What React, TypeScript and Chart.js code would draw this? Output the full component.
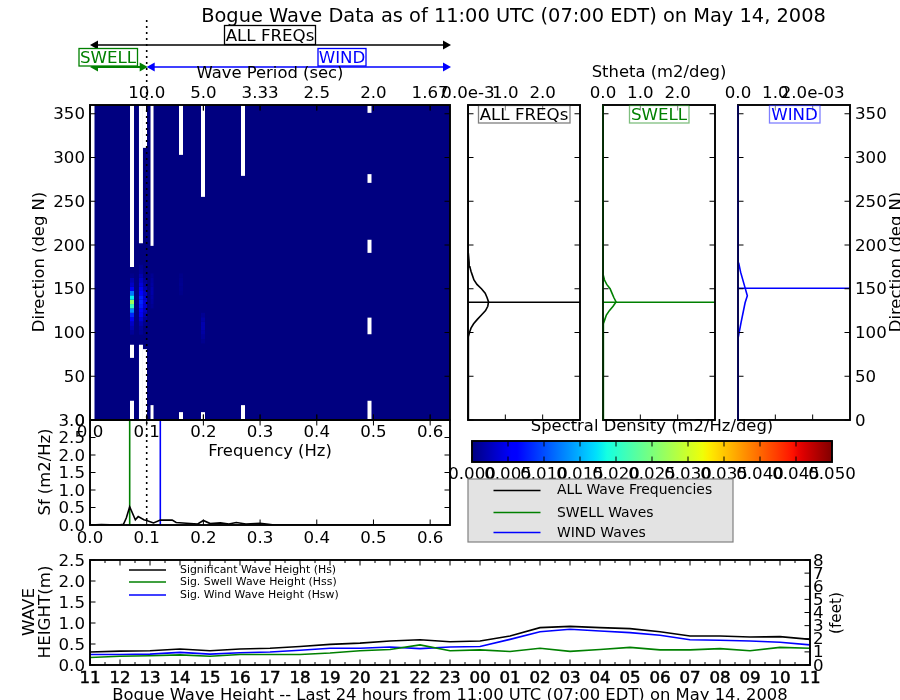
import React, { useEffect, useRef } from "react";
import { Chart, registerables } from "chart.js";

Chart.register(...registerables);
Chart.defaults.font.family = "'DejaVu Sans'";
Chart.defaults.color = "#000";

const FONT = "'DejaVu Sans'";
const TICK_PX = 16.67;
const LABEL_PX = 16.4;
const GREEN = "#008000";
const BLUE = "#0000ff";
const BLACK = "#000000";

// ---------- data ----------
const freqMax = 0.635;
const freqTicks = [0, 0.1, 0.2, 0.3, 0.4, 0.5, 0.6];
const periodTicks = [0.1, 0.2, 0.3, 0.4, 0.5, 0.6];
const periodLabels = ["10.0", "5.0", "3.33", "2.5", "2.0", "1.67"];
const dirTicks = [0, 50, 100, 150, 200, 250, 300, 350];
const sfTicks = [0, 0.5, 1, 1.5, 2, 2.5, 3];
const swellFreq = 0.07;
const windFreq = 0.124;
const splitFreq = 0.1;

// bins with no data (frequency centre, from direction, to direction)
const blankFreq = [0.0044, 0.0741, 0.0741, 0.0741, 0.0899, 0.0899, 0.0970, 0.0970, 0.1605, 0.1605, 0.1993, 0.1993, 0.2699, 0.2699];
const blankFrom = [0, 175, 71, 0, 202, 0, 311, 0, 303, 0, 255, 0, 279, 0];
const blankTo = [360, 360, 86, 22, 360, 86, 360, 81, 360, 9, 360, 9, 360, 17];
const blank2Freq = [0.4930, 0.4930, 0.4930, 0.4930, 0.4930];
const blank2From = [351, 271, 191, 98, 0];
const blank2To = [360, 281, 206, 117, 22];
const narrowFreq = [0.1094, 0.1094];
const narrowFrom = [199, 0];
const narrowTo = [360, 17];

// energy (frequency column -> direction -> density)
const energyFreqA = 0.0741;
const energyDirsA = [100, 105, 110, 115, 120, 125, 130, 135, 140, 145, 150, 155, 160, 165];
const energyValsA = [0.001, 0.002, 0.003, 0.005, 0.008, 0.013, 0.021, 0.027, 0.018, 0.012, 0.005, 0.003, 0.002, 0.0005];
const energyFreqB = 0.0899;
const energyDirsB = [100, 105, 110, 115, 120, 125, 130, 135, 140, 145, 150, 155, 160, 165, 170, 175];
const energyValsB = [0.0008, 0.0012, 0.002, 0.0035, 0.005, 0.006, 0.0075, 0.008, 0.0075, 0.006, 0.005, 0.004, 0.003, 0.002, 0.001, 0.0008];
const energyFreqC = 0.097;
const energyDirsC = [110, 115, 120, 125, 130, 135, 140, 145, 150, 155, 160];
const energyValsC = [0.0005, 0.001, 0.002, 0.003, 0.0035, 0.004, 0.0035, 0.003, 0.002, 0.0015, 0.001];
const energyFreqD = 0.1605;
const energyDirsD = [145, 150, 155, 160, 165];
const energyValsD = [0.0004, 0.0006, 0.0007, 0.0006, 0.0004];
const energyFreqE = 0.1993;
const energyDirsE = [90, 95, 100, 105, 110, 115, 120];
const energyValsE = [0.0006, 0.001, 0.0015, 0.002, 0.002, 0.0015, 0.0008];
const energyFreqF = 0.1094;
const energyDirsF = [130, 135, 140, 145, 150, 155, 160, 165];
const energyValsF = [0.0008, 0.0012, 0.0015, 0.0018, 0.0018, 0.0015, 0.0012, 0.0008];

// frequency spectrum
const sfFreqs = [0, 0.02, 0.05, 0.059, 0.064, 0.07, 0.08, 0.085, 0.095, 0.1, 0.112, 0.124, 0.145, 0.152, 0.17, 0.19, 0.2, 0.212, 0.23, 0.245, 0.258, 0.275, 0.3, 0.315, 0.325, 0.635];
const sfVals = [0, 0.01, 0, 0.02, 0.2, 0.52, 0.15, 0.24, 0.15, 0.13, 0.06, 0.14, 0.14, 0.07, 0.05, 0.03, 0.13, 0.04, 0.06, 0.03, 0.07, 0.03, 0.05, 0.02, 0, 0];

// directional spreading
const allDirs = [0, 80, 90, 95, 100, 105, 110, 115, 120, 125, 130, 135, 140, 145, 150, 155, 160, 165, 170, 175, 180, 190, 200, 205, 360];
const allTheta = [0, 0, 0.01, 0.02, 0.04, 0.08, 0.15, 0.25, 0.36, 0.47, 0.53, 0.55, 0.51, 0.46, 0.36, 0.24, 0.16, 0.12, 0.08, 0.05, 0.03, 0.01, 0.005, 0, 0];
const swellDirs = [0, 105, 110, 115, 120, 125, 130, 135, 140, 145, 150, 155, 160, 165, 170, 360];
const swellTheta = [0, 0, 0.02, 0.05, 0.09, 0.17, 0.27, 0.35, 0.29, 0.24, 0.19, 0.1, 0.04, 0.01, 0, 0];
const windDirs = [0, 93, 111, 134, 142, 151, 169, 179, 200, 210, 360];
const windTheta = [0, 0, 0.08, 0.19, 0.25, 0.19, 0.07, 0.02, 0.005, 0, 0];
const allPeakDir = 134.5;
const swellPeakDir = 134.5;
const windPeakDir = 150.5;
const thetaTicks = [0, 1, 2];

// colour bar
const densityTicks = [0, 0.005, 0.01, 0.015, 0.02, 0.025, 0.03, 0.035, 0.04, 0.045, 0.05];

// wave height history
const hourLabels = ["11", "12", "13", "14", "15", "16", "17", "18", "19", "20", "21", "22", "23", "00", "01", "02", "03", "04", "05", "06", "07", "08", "09", "10", "11"];
const hsVals = [0.31, 0.33, 0.34, 0.38, 0.34, 0.38, 0.4, 0.44, 0.49, 0.52, 0.57, 0.6, 0.555, 0.57, 0.69, 0.89, 0.92, 0.89, 0.865, 0.79, 0.69, 0.69, 0.667, 0.675, 0.61];
const hssVals = [0.18, 0.21, 0.22, 0.24, 0.21, 0.25, 0.25, 0.25, 0.285, 0.34, 0.37, 0.48, 0.34, 0.36, 0.32, 0.4, 0.325, 0.37, 0.42, 0.36, 0.36, 0.39, 0.34, 0.42, 0.4];
const hswVals = [0.25, 0.25, 0.26, 0.3, 0.26, 0.29, 0.31, 0.35, 0.4, 0.4, 0.43, 0.39, 0.43, 0.44, 0.61, 0.79, 0.85, 0.81, 0.77, 0.71, 0.6, 0.59, 0.57, 0.54, 0.48];
const metreTicks = [0, 0.5, 1, 1.5, 2, 2.5];
const feetTicks = [0, 1, 2, 3, 4, 5, 6, 7, 8];
const legendTop = ["ALL Wave Frequencies", "SWELL Waves", "WIND Waves"];
const legendBottom = ["Significant Wave Height (Hs)", "Sig. Swell Wave Height (Hss)", "Sig. Wind Wave Height (Hsw)"];

// ---------- helpers ----------
function interp(pts: number[][], t: number) {
  for (let i = 1; i < pts.length; i++) {
    if (t <= pts[i][0]) {
      const [a, va] = pts[i - 1];
      const [b, vb] = pts[i];
      return va + ((t - a) / (b - a)) * (vb - va);
    }
  }
  return pts[pts.length - 1][1];
}
function jet(t: number) {
  const r = interp([[0, 0], [0.35, 0], [0.66, 1], [0.89, 1], [1, 0.5]], t);
  const g = interp([[0, 0], [0.125, 0], [0.375, 1], [0.64, 1], [0.91, 0], [1, 0]], t);
  const b = interp([[0, 0.5], [0.11, 1], [0.34, 1], [0.65, 0], [1, 0]], t);
  return `rgb(${Math.round(r * 255)},${Math.round(g * 255)},${Math.round(b * 255)})`;
}
function text(ctx: any, s: string, x: number, y: number, o: any = {}) {
  ctx.save();
  ctx.font = `${o.size || LABEL_PX}px ${FONT}`;
  ctx.fillStyle = o.color || "#000";
  ctx.textAlign = o.align || "center";
  ctx.textBaseline = "middle";
  ctx.translate(x, y);
  if (o.rot) ctx.rotate(o.rot);
  ctx.fillText(s, 0, 1);
  ctx.restore();
}
function boxedText(ctx: any, s: string, cx: number, x0: number, y0: number, x1: number, y1: number, color: string, alpha = 1) {
  ctx.save();
  ctx.globalAlpha = alpha;
  ctx.fillStyle = "#fff";
  ctx.fillRect(x0, y0, x1 - x0, y1 - y0);
  ctx.strokeStyle = color;
  ctx.lineWidth = 1.3;
  ctx.strokeRect(x0, y0, x1 - x0, y1 - y0);
  ctx.restore();
  text(ctx, s, cx, (y0 + y1) / 2 + 0.5, { size: TICK_PX, color });
}
function arrow(ctx: any, x0: number, x1: number, y: number, color: string, lw: number) {
  ctx.save();
  ctx.strokeStyle = color;
  ctx.fillStyle = color;
  ctx.lineWidth = lw;
  ctx.beginPath();
  ctx.moveTo(x0 + 4, y);
  ctx.lineTo(x1 - 4, y);
  ctx.stroke();
  for (const [tip, dir] of [[x0, 1], [x1, -1]]) {
    ctx.beginPath();
    ctx.moveTo(tip, y);
    ctx.lineTo(tip + dir * 8, y - 4.5);
    ctx.lineTo(tip + dir * 8, y + 4.5);
    ctx.closePath();
    ctx.fill();
  }
  ctx.restore();
}
function axis(position: string, box: number[], min: number, max: number, values: number[], fmt: ((v: number) => string) | null, padding = 4, stroke = 0) {
  const [L, T, R, B] = box;
  const vertical = position === "left" || position === "right";
  return {
    type: "linear",
    position,
    min,
    max,
    offset: false,
    afterBuildTicks: (s: any) => {
      s.ticks = values.map((value) => ({ value }));
    },
    afterFit: (s: any) => {
      if (position === "left") s.width = L;
      if (position === "right") s.width = 900 - R;
      if (position === "top") s.height = T;
      if (position === "bottom") s.height = 700 - B;
    },
    grid: { display: false, drawTicks: false, offset: false },
    border: { display: false },
    ticks: {
      display: !!fmt,
      autoSkip: false,
      maxRotation: 0,
      minRotation: 0,
      padding,
      labelOffset: vertical ? 1.2 : 0,
      color: "#000",
      textStrokeColor: "#000",
      textStrokeWidth: stroke,
      font: { size: TICK_PX },
      callback: (v: number) => (fmt ? fmt(v) : ""),
    },
  };
}
function framePlugin(sides: any, minors: any = {}) {
  return {
    id: "frame",
    afterDraw(chart: any) {
      const { ctx, chartArea: a } = chart;
      ctx.save();
      ctx.strokeStyle = "#000";
      ctx.lineWidth = 1;
      const mark = (px: number, side: string, len: number) => {
        ctx.beginPath();
        if (side === "top") { ctx.moveTo(px, a.top); ctx.lineTo(px, a.top + len); }
        if (side === "bottom") { ctx.moveTo(px, a.bottom); ctx.lineTo(px, a.bottom - len); }
        if (side === "left") { ctx.moveTo(a.left, px); ctx.lineTo(a.left + len, px); }
        if (side === "right") { ctx.moveTo(a.right, px); ctx.lineTo(a.right - len, px); }
        ctx.stroke();
      };
      for (const id of Object.keys(sides)) {
        const s = chart.scales[id];
        for (const t of s.ticks) for (const side of sides[id]) mark(s.getPixelForValue(t.value), side, 5.5);
        for (const v of minors[id] || []) for (const side of sides[id]) mark(s.getPixelForValue(v), side, 3);
      }
      ctx.lineWidth = 1.9;
      ctx.strokeRect(a.left, a.top, a.right - a.left, a.bottom - a.top);
      ctx.restore();
    },
  };
}
function makePanel(canvas: any, box: number[], type: string, datasets: any[], scales: any, plugins: any[]) {
  const [L, T, R, B] = box;
  const pos = Object.values(scales).map((s: any) => s.position);
  return new Chart(canvas, {
    type: type as any,
    data: { datasets },
    options: {
      responsive: false,
      animation: false,
      devicePixelRatio: 1,
      layout: {
        padding: {
          left: pos.includes("left") ? 0 : L,
          right: pos.includes("right") ? 0 : 900 - R,
          top: pos.includes("top") ? 0 : T,
          bottom: pos.includes("bottom") ? 0 : 700 - B,
        },
      },
      plugins: { legend: { display: false }, tooltip: { enabled: false }, title: { display: false } },
      scales,
    } as any,
    plugins,
  });
}
const curve = (label: string, xs: number[], ys: number[], color: string, lw = 1.6) => ({
  label,
  data: xs.map((x, i) => ({ x, y: ys[i] })),
  borderColor: color,
  borderWidth: lw,
  showLine: true,
  pointRadius: 0,
  tension: 0,
});
const fmt1 = (v: number) => v.toFixed(1);
const fmt0 = (v: number) => String(Math.round(v));
const spans = (fs: number[], from: number[], to: number[]) => fs.map((x, i) => ({ x, y: [from[i], to[i]] }));
const column = (f: number, dirs: number[], vals: number[]) => dirs.map((d, i) => ({ x: f, y: [d - 2.5, d + 2.5], v: vals[i] }));

function buildAll(cv: any[]) {
  const charts: Chart[] = [];

  // ----- directional spectrum -----
  const heatBox = [90, 105, 450, 420];
  const energy = [
    ...column(energyFreqA, energyDirsA, energyValsA),
    ...column(energyFreqB, energyDirsB, energyValsB),
    ...column(energyFreqC, energyDirsC, energyValsC),
    ...column(energyFreqD, energyDirsD, energyValsD),
    ...column(energyFreqE, energyDirsE, energyValsE),
  ];
  const barBase = { grouped: false, inflateAmount: 0, borderWidth: 0 };
  charts.push(
    makePanel(
      cv[0],
      heatBox,
      "bar",
      [
        { ...barBase, label: "Density", data: energy, barThickness: 4, backgroundColor: (c: any) => jet((c.raw?.v ?? 0) / 0.05) },
        { ...barBase, label: "Density (narrow bin)", data: column(energyFreqF, energyDirsF, energyValsF), barThickness: 3, backgroundColor: (c: any) => jet((c.raw?.v ?? 0) / 0.05) },
        { ...barBase, label: "No data", data: spans(blankFreq, blankFrom, blankTo), barThickness: 4, backgroundColor: "#fff" },
        { ...barBase, label: "No data 2", data: spans(blank2Freq, blank2From, blank2To), barThickness: 4, backgroundColor: "#fff" },
        { ...barBase, label: "No data 3", data: spans(narrowFreq, narrowFrom, narrowTo), barThickness: 3, backgroundColor: "#fff" },
      ],
      {
        x: axis("bottom", heatBox, 0, freqMax, freqTicks, fmt1, 2.5),
        xTop: { ...axis("top", heatBox, 0, freqMax, periodTicks, (v) => periodLabels[periodTicks.indexOf(v)], 1), axis: "x" },
        y: axis("left", heatBox, 0, 360, dirTicks, fmt0, 5),
      },
      [
        {
          id: "navy",
          beforeDatasetsDraw(chart: any) {
            const { ctx, chartArea: a } = chart;
            ctx.fillStyle = jet(0);
            ctx.fillRect(a.left, a.top, a.right - a.left, a.bottom - a.top);
          },
        },
        framePlugin({ x: ["top", "bottom"], xTop: ["top", "bottom"], y: ["left", "right"] }),
        {
          id: "notes",
          afterDraw(chart: any) {
            const { ctx } = chart;
            const sx = chart.scales.x;
            const x0 = sx.getPixelForValue(0);
            const x1 = sx.getPixelForValue(freqMax) + 1;
            const xs = sx.getPixelForValue(splitFreq);
            text(ctx, "Bogue Wave Data as of 11:00 UTC (07:00 EDT) on May 14, 2008", 513.5, 16, { size: 19.4 });
            arrow(ctx, x0, x1, 45, BLACK, 1.4);
            arrow(ctx, x0, xs + 1, 67, GREEN, 2.2);
            arrow(ctx, xs, x1, 67, BLUE, 1.4);
            boxedText(ctx, "ALL FREQs", 270, 224.5, 25.5, 315.5, 44.5, BLACK);
            boxedText(ctx, "SWELL", 108, 79, 48.5, 137.5, 66, GREEN);
            boxedText(ctx, "WIND", 342, 318, 48.5, 366, 66, BLUE);
            text(ctx, "Wave Period (sec)", 270, 73);
            text(ctx, "Frequency (Hz)", 270, 451);
            text(ctx, "Direction (deg N)", 39, 262, { rot: -Math.PI / 2 });
            ctx.save();
            ctx.strokeStyle = "#000";
            ctx.lineWidth = 1.6;
            ctx.setLineDash([2, 4]);
            ctx.beginPath();
            ctx.moveTo(xs, 20);
            ctx.lineTo(xs, 525);
            ctx.stroke();
            ctx.restore();
          },
        },
      ]
    )
  );

  // ----- Sf -----
  const sfBox = [90, 420, 450, 525];
  charts.push(
    makePanel(
      cv[1],
      sfBox,
      "scatter",
      [
        curve("Sf", sfFreqs, sfVals, BLACK),
        curve("Swell peak", [swellFreq, swellFreq], [0, 3], GREEN),
        curve("Wind peak", [windFreq, windFreq], [0, 3], BLUE),
      ],
      {
        x: axis("bottom", sfBox, 0, freqMax, freqTicks, fmt1, 3.5),
        y: axis("left", sfBox, 0, 3, sfTicks, fmt1, 5),
      },
      [
        framePlugin({ x: ["top", "bottom"], y: ["left", "right"] }),
        {
          id: "sfNotes",
          afterDraw(chart: any) {
            text(chart.ctx, "Sf (m2/Hz)", 45, 472, { rot: -Math.PI / 2 });
          },
        },
      ]
    )
  );

  // ----- Stheta panels -----
  const thetaPanel = (
    canvas: any,
    box: number[],
    dirs: number[],
    vals: number[],
    peak: number,
    color: string,
    fmtX: (v: number) => string,
    showRight: boolean,
    notes: (ctx: any) => void
  ) =>
    makePanel(
      canvas,
      box,
      "scatter",
      [curve("Stheta", vals, dirs, color), curve("Peak direction", [0, 3], [peak, peak], color)],
      {
        x: axis("top", box, 0, 3, thetaTicks, fmtX, 1),
        y: axis(showRight ? "right" : "left", box, 0, 360, dirTicks, showRight ? fmt0 : null, 5),
      },
      [
        framePlugin({ x: ["top", "bottom"], y: ["left", "right"] }),
        {
          id: "thetaNotes",
          afterDraw: (chart: any) => {
            const { ctx, chartArea: a } = chart;
            ctx.save();
            ctx.globalAlpha = 0.5;
            ctx.strokeStyle = color;
            ctx.lineWidth = 1.2;
            ctx.beginPath();
            ctx.moveTo(a.left, a.top);
            ctx.lineTo(a.left, a.bottom);
            ctx.stroke();
            ctx.restore();
            notes(ctx);
          },
        },
      ]
    );
  charts.push(
    thetaPanel(cv[2], [468, 105, 580, 420], allDirs, allTheta, allPeakDir, BLACK, (v) => (v === 0 ? "0.0e-3" : fmt1(v)), false, (ctx) => {
      boxedText(ctx, "ALL FREQs", 524, 478.5, 105.5, 570, 123, "#000", 0.5);
      text(ctx, "Stheta (m2/deg)", 659, 72);
      text(ctx, "Spectral Density (m2/Hz/deg)", 652, 426);
    })
  );
  charts.push(
    thetaPanel(cv[3], [603, 105, 715, 420], swellDirs, swellTheta, swellPeakDir, GREEN, fmt1, false, (ctx) => {
      boxedText(ctx, "SWELL", 659, 629.5, 105.5, 689, 123, GREEN, 0.5);
    })
  );
  charts.push(
    thetaPanel(cv[4], [738, 105, 850, 420], windDirs, windTheta, windPeakDir, BLUE, (v) => (v === 2 ? "2.0e-03" : fmt1(v)), true, (ctx) => {
      boxedText(ctx, "WIND", 794.5, 769.5, 105.5, 820, 123, BLUE, 0.5);
      text(ctx, "Direction (deg N)", 896, 262, { rot: -Math.PI / 2 });
    })
  );

  // ----- colour bar -----
  const barBox = [472, 441, 832, 462];
  charts.push(
    makePanel(
      cv[5],
      barBox,
      "scatter",
      [],
      {
        x: axis("bottom", barBox, 0, 0.05, densityTicks, (v) => v.toFixed(3), 3),
        y: { type: "linear", display: false, min: 0, max: 1 },
      },
      [
        {
          id: "ramp",
          beforeDatasetsDraw(chart: any) {
            const { ctx, chartArea: a } = chart;
            const g = ctx.createLinearGradient(a.left, 0, a.right, 0);
            for (let i = 0; i <= 64; i++) g.addColorStop(i / 64, jet(i / 64));
            ctx.fillStyle = g;
            ctx.fillRect(a.left, a.top, a.right - a.left, a.bottom - a.top);
          },
        },
        framePlugin({ x: ["top", "bottom"] }),
        {
          id: "legendTop",
          afterDraw(chart: any) {
            const { ctx } = chart;
            ctx.save();
            ctx.fillStyle = "#e3e3e3";
            ctx.fillRect(468, 479, 265, 63);
            ctx.strokeStyle = "#808080";
            ctx.lineWidth = 1.2;
            ctx.strokeRect(468, 479, 265, 63);
            const colors = [BLACK, GREEN, BLUE];
            const ys = [490.5, 512.5, 532.5];
            legendTop.forEach((s, i) => {
              ctx.strokeStyle = colors[i];
              ctx.lineWidth = 1.6;
              ctx.beginPath();
              ctx.moveTo(493.5, ys[i]);
              ctx.lineTo(540.5, ys[i]);
              ctx.stroke();
              text(ctx, s, 557, ys[i] - (i === 0 ? 1 : 0), { size: 13.9, align: "left" });
            });
            ctx.restore();
          },
        },
      ]
    )
  );

  // ----- wave height history -----
  const hBox = [90, 560, 810, 665];
  const hourIdx = hourLabels.map((_, i) => i);
  const halfHours = hourIdx.slice(0, -1).map((i) => i + 0.5);
  charts.push(
    makePanel(
      cv[6],
      hBox,
      "scatter",
      [
        curve("Hs", hourIdx, hsVals, BLACK),
        curve("Hss", hourIdx, hssVals, GREEN),
        curve("Hsw", hourIdx, hswVals, BLUE),
      ],
      {
        x: axis("bottom", hBox, 0, 24, hourIdx, (v) => hourLabels[v], 3.5, 0.5),
        y: axis("left", hBox, 0, 2.5, metreTicks, fmt1, 5),
        y2: { ...axis("right", hBox, 0, 8, feetTicks, fmt0, 3), axis: "y" },
      },
      [
        framePlugin({ x: ["top", "bottom"], y: ["left"], y2: ["right"] }, { x: halfHours }),
        {
          id: "hNotes",
          afterDraw(chart: any) {
            const { ctx } = chart;
            const colors = [BLACK, GREEN, BLUE];
            const ys = [570, 582, 595];
            legendBottom.forEach((s, i) => {
              ctx.strokeStyle = colors[i];
              ctx.lineWidth = 1.6;
              ctx.beginPath();
              ctx.moveTo(129, ys[i]);
              ctx.lineTo(166, ys[i]);
              ctx.stroke();
              text(ctx, s, 180, ys[i] - 0.5, { size: 10.9, align: "left" });
            });
            text(ctx, "WAVE", 29, 612, { rot: -Math.PI / 2, size: TICK_PX });
            text(ctx, "HEIGHT(m)", 45, 612, { rot: -Math.PI / 2, size: TICK_PX });
            text(ctx, "(feet)", 836, 613, { rot: -Math.PI / 2, size: 15.3 });
            text(ctx, "Bogue Wave Height -- Last 24 hours from 11:00 UTC (07:00 EDT) on May 14, 2008", 450, 695);
          },
        },
      ]
    )
  );
  return charts;
}

const PANEL_COUNT = 7;

export default function App() {
  const refs = useRef<any[]>([]);
  useEffect(() => {
    const charts = buildAll(refs.current);
    return () => charts.forEach((c) => c.destroy());
  }, []);
  return (
    <div style={{ position: "fixed", left: 0, top: 0, width: 900, height: 700, background: "#fff", overflow: "hidden" }}>
      {Array.from({ length: PANEL_COUNT }, (_, i) => (
        <canvas
          key={i}
          ref={(el) => {
            refs.current[i] = el;
          }}
          width={900}
          height={700}
          style={{ position: "absolute", left: 0, top: 0, width: 900, height: 700 }}
        />
      ))}
    </div>
  );
}
